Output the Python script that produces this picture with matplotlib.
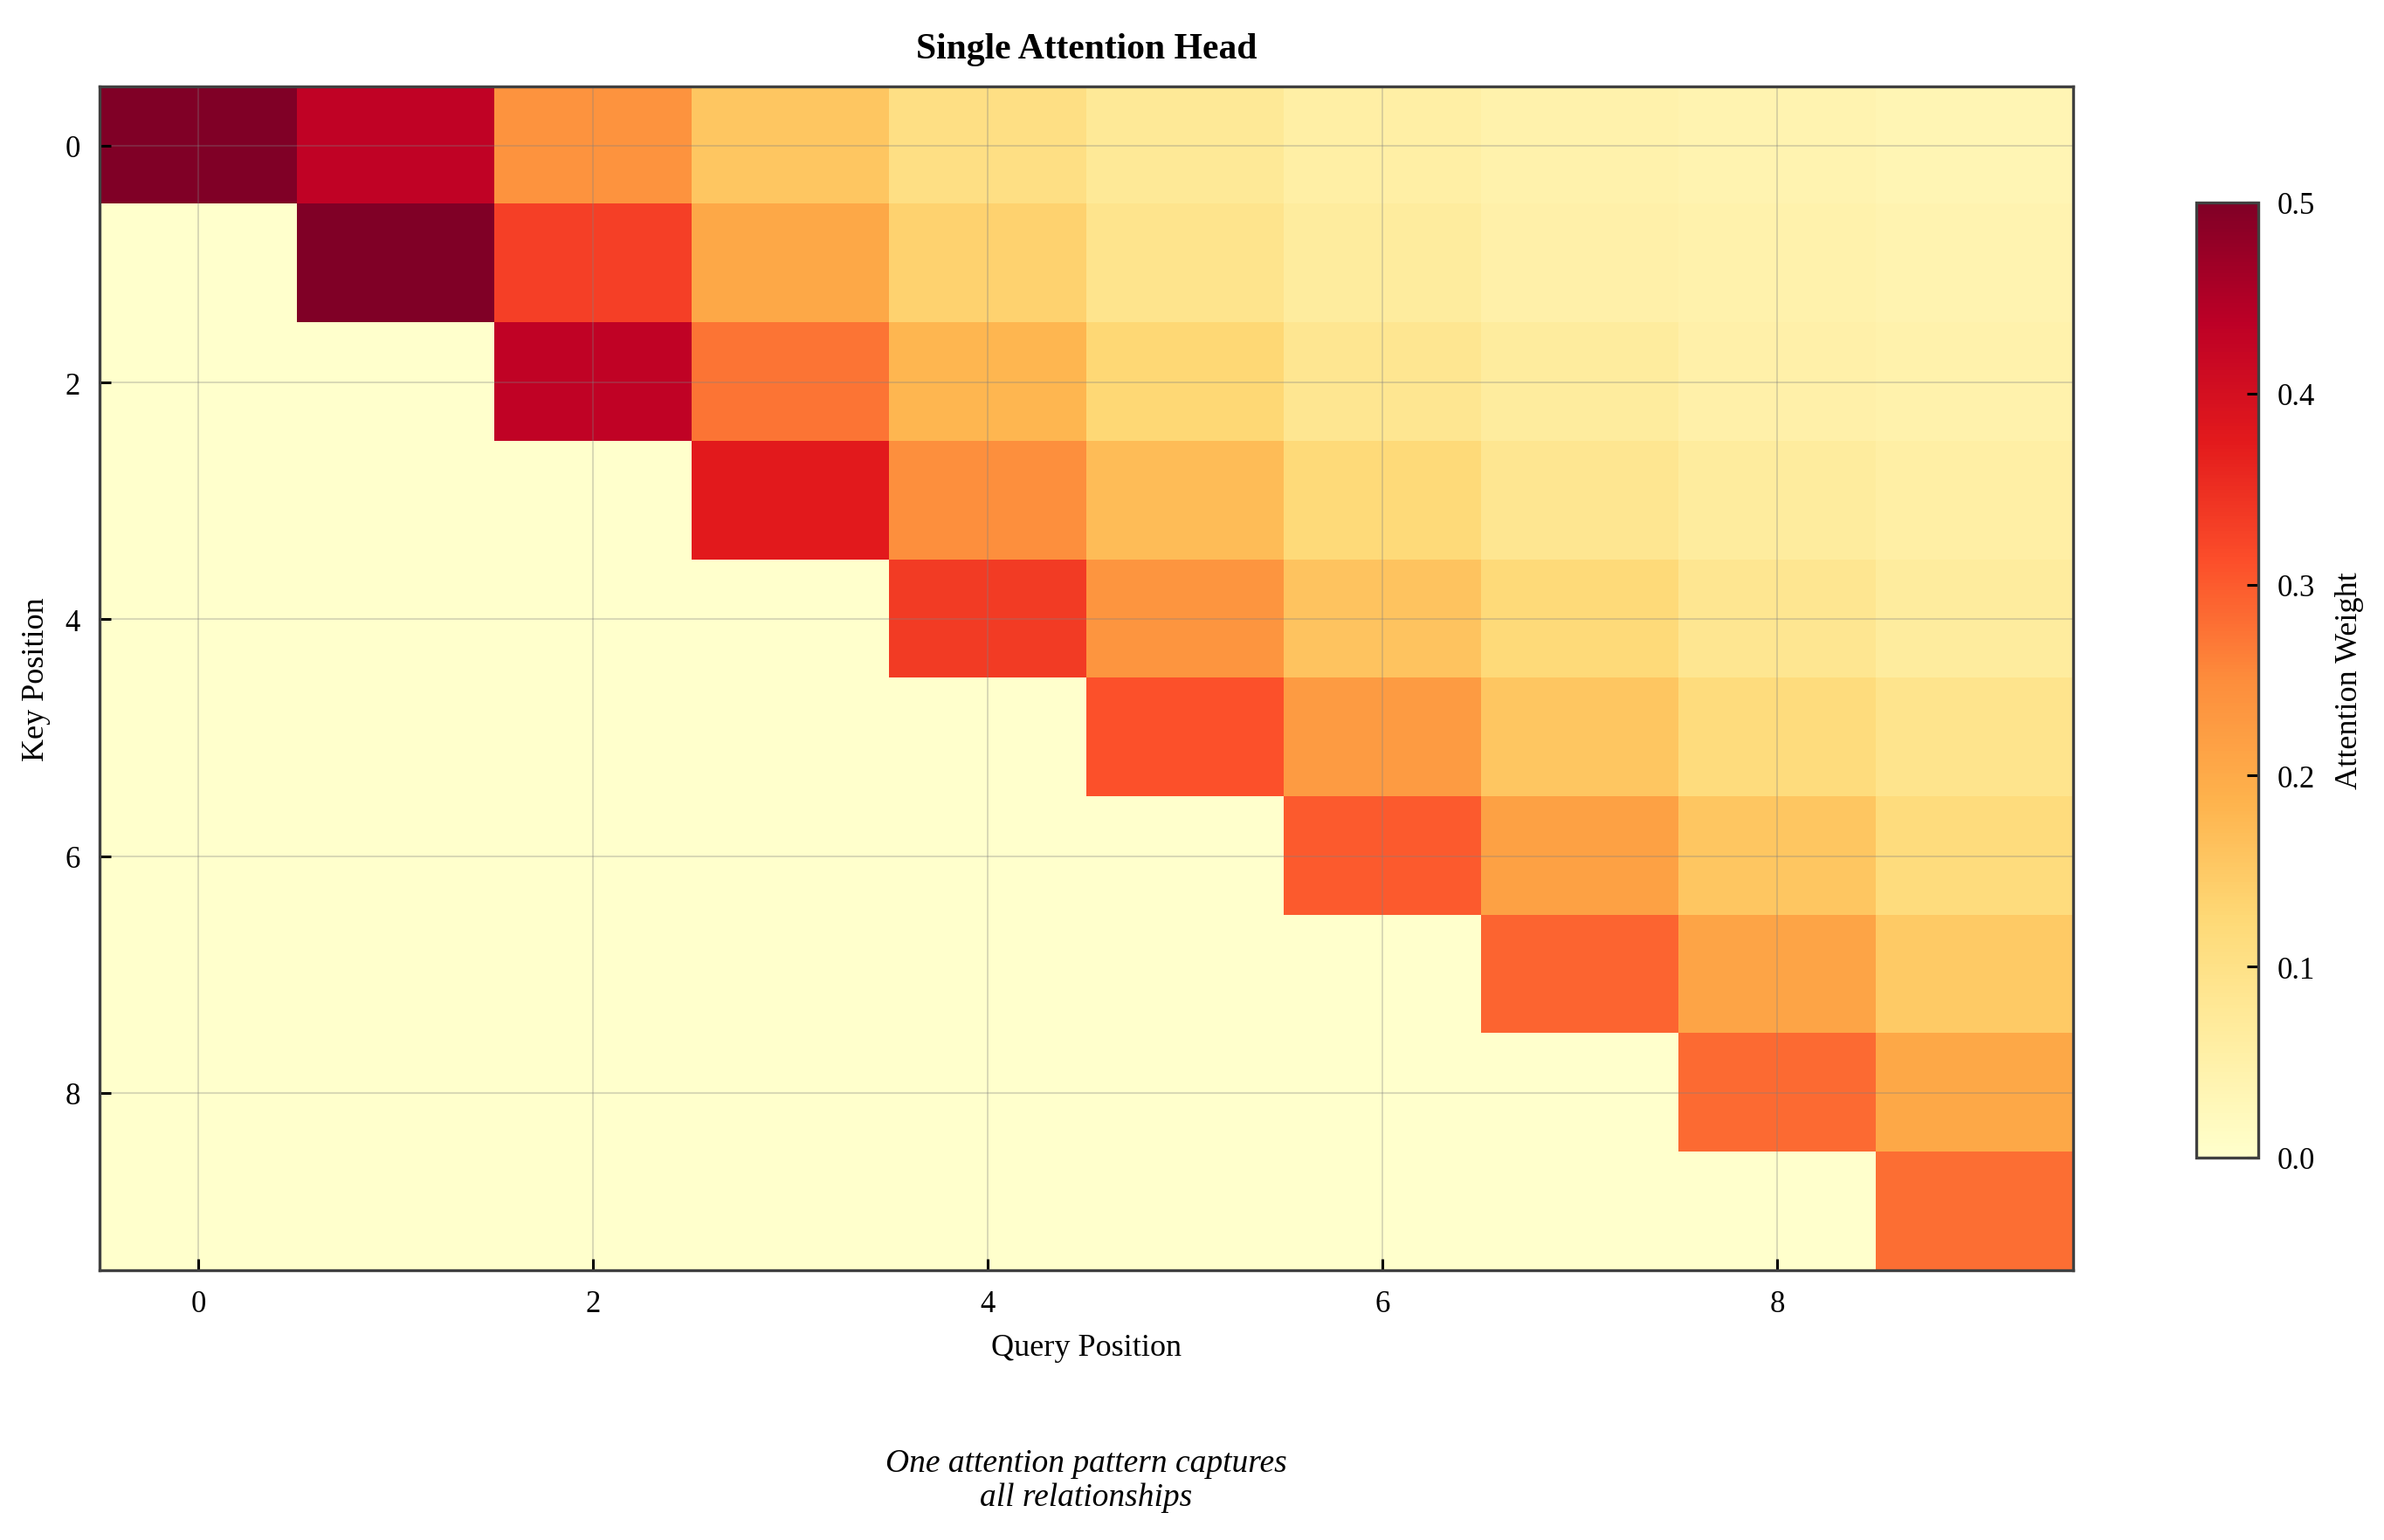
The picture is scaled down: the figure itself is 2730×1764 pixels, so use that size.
import numpy as np
import matplotlib
matplotlib.use('Agg')
import matplotlib.pyplot as plt

plt.rcParams['font.family'] = ['Liberation Serif', 'DejaVu Serif']

# attention weights: rows = key position, columns = query position
row_0 = [1.00, 0.43, 0.24, 0.155, 0.105, 0.075, 0.055, 0.045, 0.040, 0.035]
row_1 = [0.00, 0.57, 0.33, 0.205, 0.135, 0.090, 0.065, 0.050, 0.045, 0.040]
row_2 = [0.00, 0.00, 0.43, 0.275, 0.180, 0.125, 0.085, 0.065, 0.050, 0.045]
row_3 = [0.00, 0.00, 0.00, 0.375, 0.245, 0.170, 0.120, 0.085, 0.065, 0.055]
row_4 = [0.00, 0.00, 0.00, 0.000, 0.335, 0.235, 0.160, 0.120, 0.085, 0.065]
row_5 = [0.00, 0.00, 0.00, 0.000, 0.000, 0.310, 0.225, 0.155, 0.115, 0.090]
row_6 = [0.00, 0.00, 0.00, 0.000, 0.000, 0.000, 0.300, 0.215, 0.155, 0.115]
row_7 = [0.00, 0.00, 0.00, 0.000, 0.000, 0.000, 0.000, 0.290, 0.210, 0.150]
row_8 = [0.00, 0.00, 0.00, 0.000, 0.000, 0.000, 0.000, 0.000, 0.285, 0.205]
row_9 = [0.00, 0.00, 0.00, 0.000, 0.000, 0.000, 0.000, 0.000, 0.000, 0.280]

weights = np.array([row_0, row_1, row_2, row_3, row_4,
                    row_5, row_6, row_7, row_8, row_9])

fig = plt.figure(figsize=(13.65, 8.825), dpi=200)
ax = fig.add_axes([0.0418, 0.175, 0.8278, 0.7683])
cax = fig.add_axes([0.9212, 0.2482, 0.026, 0.6198])

im = ax.imshow(weights, cmap='YlOrRd', vmin=0, vmax=0.5, aspect='auto')

ax.set_xticks([0, 2, 4, 6, 8])
ax.set_yticks([0, 2, 4, 6, 8])
ax.tick_params(direction='in', length=4.7, width=1.1, labelsize=12.5, pad=8)
ax.grid(True, color='gray', alpha=0.3, linewidth=0.7)
for sp in ax.spines.values():
    sp.set_color('#404040')
    sp.set_linewidth(1.2)

ax.set_xlabel('Query Position', fontsize=13, labelpad=6)
ax.set_ylabel('Key Position', fontsize=13, labelpad=6)
ax.set_title('Single Attention Head', fontsize=15, fontweight='bold', pad=12)

cbar = fig.colorbar(im, cax=cax)
cbar.set_label('Attention Weight', fontsize=13, labelpad=8)
cbar.ax.tick_params(direction='in', length=4.7, width=1.1, labelsize=12.5, pad=8)
cbar.outline.set_edgecolor('#404040')
cbar.outline.set_linewidth(1.2)

fig.text(0.4557, 0.039, 'One attention pattern captures\nall relationships',
         ha='center', va='center', fontsize=13.5, style='italic',
         multialignment='center')

fig.savefig('out.png', dpi=200)
